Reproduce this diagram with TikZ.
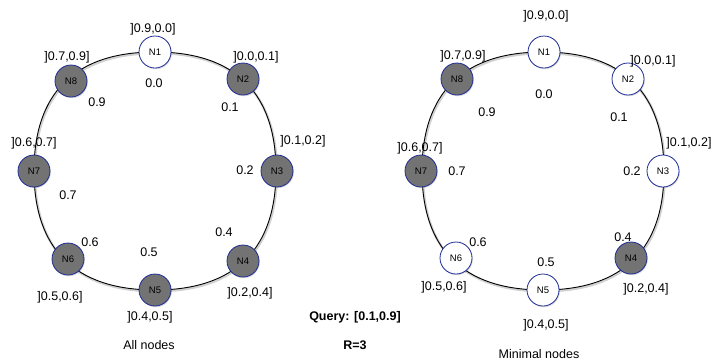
\documentclass[tikz,border=0pt]{standalone}
\usepackage{fontspec}
\setmainfont{Liberation Sans}
\usetikzlibrary{shadows}

\definecolor{peerblue}{RGB}{30,44,150}
\definecolor{peergray}{RGB}{115,115,115}

\tikzset{
	ring/.style={draw=black, line width=0.9pt,
		preaction={draw=black!18, line width=2.4pt, transform canvas={xshift=0.8pt,yshift=-1.2pt}}},
	peer/.style={circle, draw=peerblue, line width=0.8pt, fill=white, minimum size=32pt, inner sep=0pt,
		font=\fontsize{9.5}{10}\selectfont,
		drop shadow={opacity=0.3, shadow xshift=0.8pt, shadow yshift=-1.2pt}},
	chosen/.style={fill=peergray},
	lbl/.style={inner sep=0pt, font=\fontsize{12.5}{14}\selectfont}
}

\begin{document}
\begin{tikzpicture}[x=1pt, y=-1pt]
	\useasboundingbox (0,0) rectangle (712,360);

	% the two rings
	\draw [ring, shift={(155,171)}] (0,-119) .. controls (80,-119) and (121,-78) .. (121,0)
		.. controls (121,78) and (80,119) .. (0,119)
		.. controls (-80,119) and (-121,78) .. (-121,0)
		.. controls (-121,-78) and (-80,-119) .. cycle;
	\draw [ring, shift={(543,171)}] (0,-119) .. controls (80,-119) and (121,-78) .. (121,0)
		.. controls (121,78) and (80,119) .. (0,119)
		.. controls (-80,119) and (-121,78) .. (-121,0)
		.. controls (-121,-78) and (-80,-119) .. cycle;

	% all nodes
	\node (all1) [peer] at (155,52) {N1};
	\node (all2) [peer, chosen] at (243,79) {N2};
	\node (all3) [peer, chosen] at (277,171) {N3};
	\node (all4) [peer, chosen] at (243,261) {N4};
	\node (all5) [peer, chosen] at (155,290) {N5};
	\node (all6) [peer, chosen] at (68,259) {N6};
	\node (all7) [peer, chosen] at (34,171) {N7};
	\node (all8) [peer, chosen] at (71,81) {N8};

	\node (allr1) [lbl] at (153,29) {]0.9,0.0]};
	\node (allr2) [lbl] at (256,57) {]0.0,0.1]};
	\node (allr3) [lbl] at (303,141) {]0.1,0.2]};
	\node (allr4) [lbl] at (250,293) {]0.2,0.4]};
	\node (allr5) [lbl] at (150,317) {]0.4,0.5]};
	\node (allr6) [lbl] at (60,297) {]0.5,0.6]};
	\node (allr7) [lbl] at (34,143) {]0.6,0.7]};
	\node (allr8) [lbl] at (67,57) {]0.7,0.9]};

	\node (allv1) [lbl] at (154,83) {0.0};
	\node (allv2) [lbl] at (230,107) {0.1};
	\node (allv3) [lbl] at (245,170) {0.2};
	\node (allv4) [lbl] at (224,232) {0.4};
	\node (allv5) [lbl] at (149,252) {0.5};
	\node (allv6) [lbl] at (90,242) {0.6};
	\node (allv7) [lbl] at (68,195) {0.7};
	\node (allv8) [lbl] at (97,102) {0.9};

	\node (alltitle) [lbl] at (149,345) {All nodes};

	% minimal nodes
	\node (min1) [peer] at (544,52) {N1};
	\node (min2) [peer] at (628,79) {N2};
	\node (min3) [peer] at (663,171) {N3};
	\node (min4) [peer, chosen] at (631,258) {N4};
	\node (min5) [peer] at (543,290) {N5};
	\node (min6) [peer] at (456,258) {N6};
	\node (min7) [peer, chosen] at (421,171) {N7};
	\node (min8) [peer, chosen] at (457,79) {N8};

	\node (minr1) [lbl] at (546,16) {]0.9,0.0]};
	\node (minr2) [lbl] at (653,61) {]0.0,0.1]};
	\node (minr3) [lbl] at (689,143) {]0.1,0.2]};
	\node (minr4) [lbl] at (646,289) {]0.2,0.4]};
	\node (minr5) [lbl] at (546,325) {]0.4,0.5]};
	\node (minr6) [lbl] at (444,287) {]0.5,0.6]};
	\node (minr7) [lbl] at (420,148) {]0.6,0.7]};
	\node (minr8) [lbl] at (463,56) {]0.7,0.9]};

	\node (minv1) [lbl] at (544,94) {0.0};
	\node (minv2) [lbl] at (619,117) {0.1};
	\node (minv3) [lbl] at (632,171) {0.2};
	\node (minv4) [lbl] at (623,237) {0.4};
	\node (minv5) [lbl] at (546,262) {0.5};
	\node (minv6) [lbl] at (478,242) {0.6};
	\node (minv7) [lbl] at (457,171) {0.7};
	\node (minv8) [lbl] at (487,112) {0.9};

	\node (mintitle) [lbl] at (539,354) {Minimal nodes};

	\node (query) [lbl, font=\fontsize{12.5}{14}\selectfont\bfseries] at (355,317) {Query: [0.1,0.9]};
	\node (repl) [lbl, font=\fontsize{12.5}{14}\selectfont\bfseries] at (355,345) {R=3};
\end{tikzpicture}
\end{document}
